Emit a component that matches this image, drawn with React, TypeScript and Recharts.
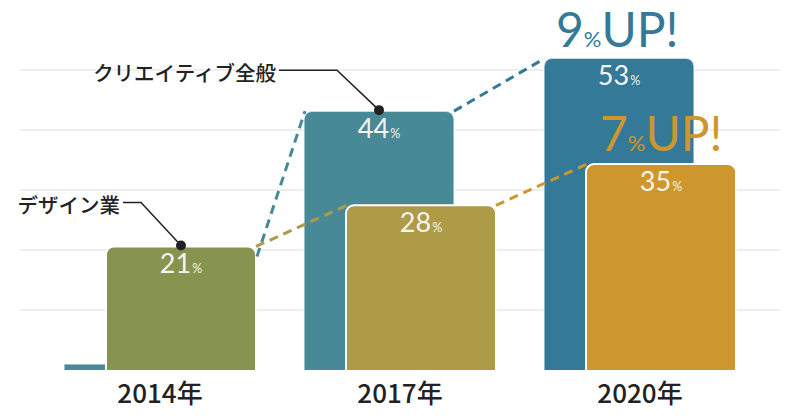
import React from 'react';
import { BarChart, Bar, XAxis, YAxis, CartesianGrid } from 'recharts';

// ---- data ----
const years = ['2014年', '2017年', '2020年'];
const creative = [1, 44, 53]; // クリエイティブ全般 (%)
const design = [21, 28, 35]; // デザイン業 (%)
const seriesNames = ['クリエイティブ全般', 'デザイン業'];
const gridTicks = [10.2, 20.4, 30.6, 40.8, 51];
const Y_MAX = 60;

// ---- style ----
const creativeColors = ['#4a8999', '#488998', '#347a98'];
const designColors = ['#879450', '#ae9b48', '#ce972d'];

const W = 800;
const H = 420;
const MARGIN = { top: 17, right: 20, bottom: 0, left: 20 };
const PAD = 20;
const BAR = 150;
const GAP = -108;
const SHIFT = BAR + GAP;
const BAND = (W - MARGIN.left - MARGIN.right - 2 * PAD) / years.length;
const NUM_FONT = "Lato, 'Noto Sans', sans-serif";
const JP_FONT = "'Noto Sans CJK JP', 'Noto Sans', sans-serif";
const LABEL_FILL = '#f5f3ec';

// callout layout (series 0 = creative, 1 = design)
const callouts = [
  { series: 0, index: 1, elbowDx: -42, elbowDy: -40, len: 58 },
  { series: 1, index: 0, elbowDx: -40, elbowDy: -43, len: 18 },
];

const data = years.map((year, i) => ({ year, creative: creative[i], design: design[i] }));

function topRoundPath(x: number, y: number, w: number, h: number, closed: boolean) {
  const r = h > 16 ? 8 : 0;
  const p = `M${x},${y + h} L${x},${y + r} A${r},${r} 0 0 1 ${x + r},${y} L${x + w - r},${y} A${r},${r} 0 0 1 ${x + w},${y + r} L${x + w},${y + h}`;
  return closed ? p + ' Z' : p;
}

function ValueLabel({ cx, top, v }: { cx: number; top: number; v: number }) {
  return (
    <text x={cx} y={top + 27} textAnchor="middle" fill={LABEL_FILL} fontFamily={NUM_FONT}>
      <tspan fontSize={27}>{v}</tspan>
      <tspan fontSize={12.5} dx={1}>%</tspan>
    </text>
  );
}

function CreativeShape(props: any) {
  const { x, y, width, height, index } = props;
  const v = creative[index];
  return (
    <g>
      <path d={topRoundPath(x, y, width, height, true)} fill={creativeColors[index]} />
      <path d={topRoundPath(x, y, width, height, false)} fill="none" stroke="#ffffff" strokeOpacity={0.6} strokeWidth={1.5} />
      {v > design[index] && <ValueLabel cx={x + width / 2} top={y} v={v} />}
    </g>
  );
}

function DesignShape(props: any) {
  const { x, y, width, height, index } = props;
  const base = y + height;
  const k = height / design[index];
  const goldLeft = (j: number) => x + (j - index) * BAND;
  const goldTop = (j: number) => base - design[j] * k;
  const blueLeft = (j: number) => goldLeft(j) - SHIFT;
  const blueTop = (j: number) => base - creative[j] * k;
  const last = years.length - 1;

  const connectors: React.ReactNode[] = [];
  if (index > 0) {
    const p = index - 1;
    let sx: number, sy: number;
    if (creative[p] > design[p]) {
      sx = blueLeft(p) + width;
      sy = blueTop(p);
    } else {
      sx = goldLeft(p) + width + 1;
      sy = goldTop(p) + 10;
    }
    connectors.push(
      <line key="c" x1={sx} y1={sy} x2={blueLeft(index) + 1} y2={blueTop(index)} stroke={creativeColors[index]} strokeWidth={3} strokeDasharray="9 6" />
    );
    connectors.push(
      <line key="d" x1={goldLeft(p) + width} y1={goldTop(p)} x2={goldLeft(index) + 1} y2={goldTop(index)} stroke={designColors[index]} strokeWidth={3} strokeDasharray="9 6" />
    );
  }

  const ups: React.ReactNode[] = [];
  if (index === last && index > 0) {
    const dc = creative[index] - creative[index - 1];
    const dd = design[index] - design[index - 1];
    ups.push(
      <text key="uc" x={blueLeft(index) + 12} y={blueTop(index) - 11} fill={creativeColors[index]} fontFamily={NUM_FONT}>
        <tspan fontSize={48}>{dc}</tspan>
        <tspan fontSize={22}>%</tspan>
        <tspan fontSize={48}>UP!</tspan>
      </text>
    );
    ups.push(
      <text key="ud" x={goldLeft(index) + 14} y={goldTop(index) - 13} fill={designColors[index]} fontFamily={NUM_FONT}>
        <tspan fontSize={48}>{dd}</tspan>
        <tspan fontSize={22}>%</tspan>
        <tspan fontSize={48}>UP!</tspan>
      </text>
    );
  }

  const calls = callouts
    .filter((c) => c.index === index)
    .map((c, n) => {
      const cx = c.series === 0 ? blueLeft(index) + width / 2 : goldLeft(index) + width / 2;
      const cy = (c.series === 0 ? blueTop(index) : goldTop(index)) - 1;
      const ex = cx + c.elbowDx;
      const ey = cy + c.elbowDy;
      const hx = ex - c.len;
      return (
        <g key={'call' + n}>
          <polyline points={`${cx},${cy} ${ex},${ey} ${hx},${ey}`} fill="none" stroke="#222" strokeWidth={1.5} />
          <circle cx={cx} cy={cy} r={5} fill="#222" />
          <text x={hx - 3} y={ey + 2} textAnchor="end" dominantBaseline="central" fontSize={20.5} fontWeight={500} fill="#222" fontFamily={JP_FONT}>
            {seriesNames[c.series]}
          </text>
        </g>
      );
    });

  return (
    <g>
      <path d={topRoundPath(x, y, width, height, true)} fill={designColors[index]} />
      <path d={topRoundPath(x, y, width, height, false)} fill="none" stroke="#ffffff" strokeWidth={2} />
      <ValueLabel cx={x + width / 2} top={y} v={design[index]} />
      {connectors}
      {ups}
      {calls}
    </g>
  );
}

function YearTick(props: any) {
  const { x, y, payload } = props;
  return (
    <text x={x} y={y + 33} textAnchor="middle" fontSize={26} fontWeight={500} fill="#222" fontFamily={JP_FONT}>
      {payload.value}
    </text>
  );
}

const gridRows = (props: any) => {
  const s = props?.yAxis?.scale;
  let out: number[] = [];
  if (typeof s === 'function') out = gridTicks.map((t) => Number(s(t)));
  else if (s && typeof s.map === 'function') out = gridTicks.map((t) => Number(s.map(t)));
  if (out.length && out.every((v) => Number.isFinite(v))) return out;
  const o = props?.offset ?? { top: MARGIN.top, height: H - MARGIN.top - 50 };
  return gridTicks.map((t) => o.top + o.height * (1 - t / Y_MAX));
};

export default function App() {
  return (
    <div style={{ position: 'absolute', left: 0, top: 0, width: W, height: H, background: '#fff' }}>
      <BarChart width={W} height={H} data={data} margin={MARGIN} barGap={GAP} barSize={BAR}>
        <CartesianGrid vertical={false} stroke="#eeeeee" strokeWidth={2} horizontalCoordinatesGenerator={gridRows} />
        <XAxis
          dataKey="year"
          padding={{ left: PAD, right: PAD }}
          axisLine={false}
          tickLine={false}
          tickSize={0}
          tickMargin={0}
          height={50}
          tick={<YearTick />}
          interval={0}
        />
        <YAxis hide type="number" domain={[0, Y_MAX]} ticks={gridTicks} />
        <Bar dataKey="creative" shape={<CreativeShape />} isAnimationActive={false} />
        <Bar dataKey="design" shape={<DesignShape />} isAnimationActive={false} />
      </BarChart>
    </div>
  );
}
